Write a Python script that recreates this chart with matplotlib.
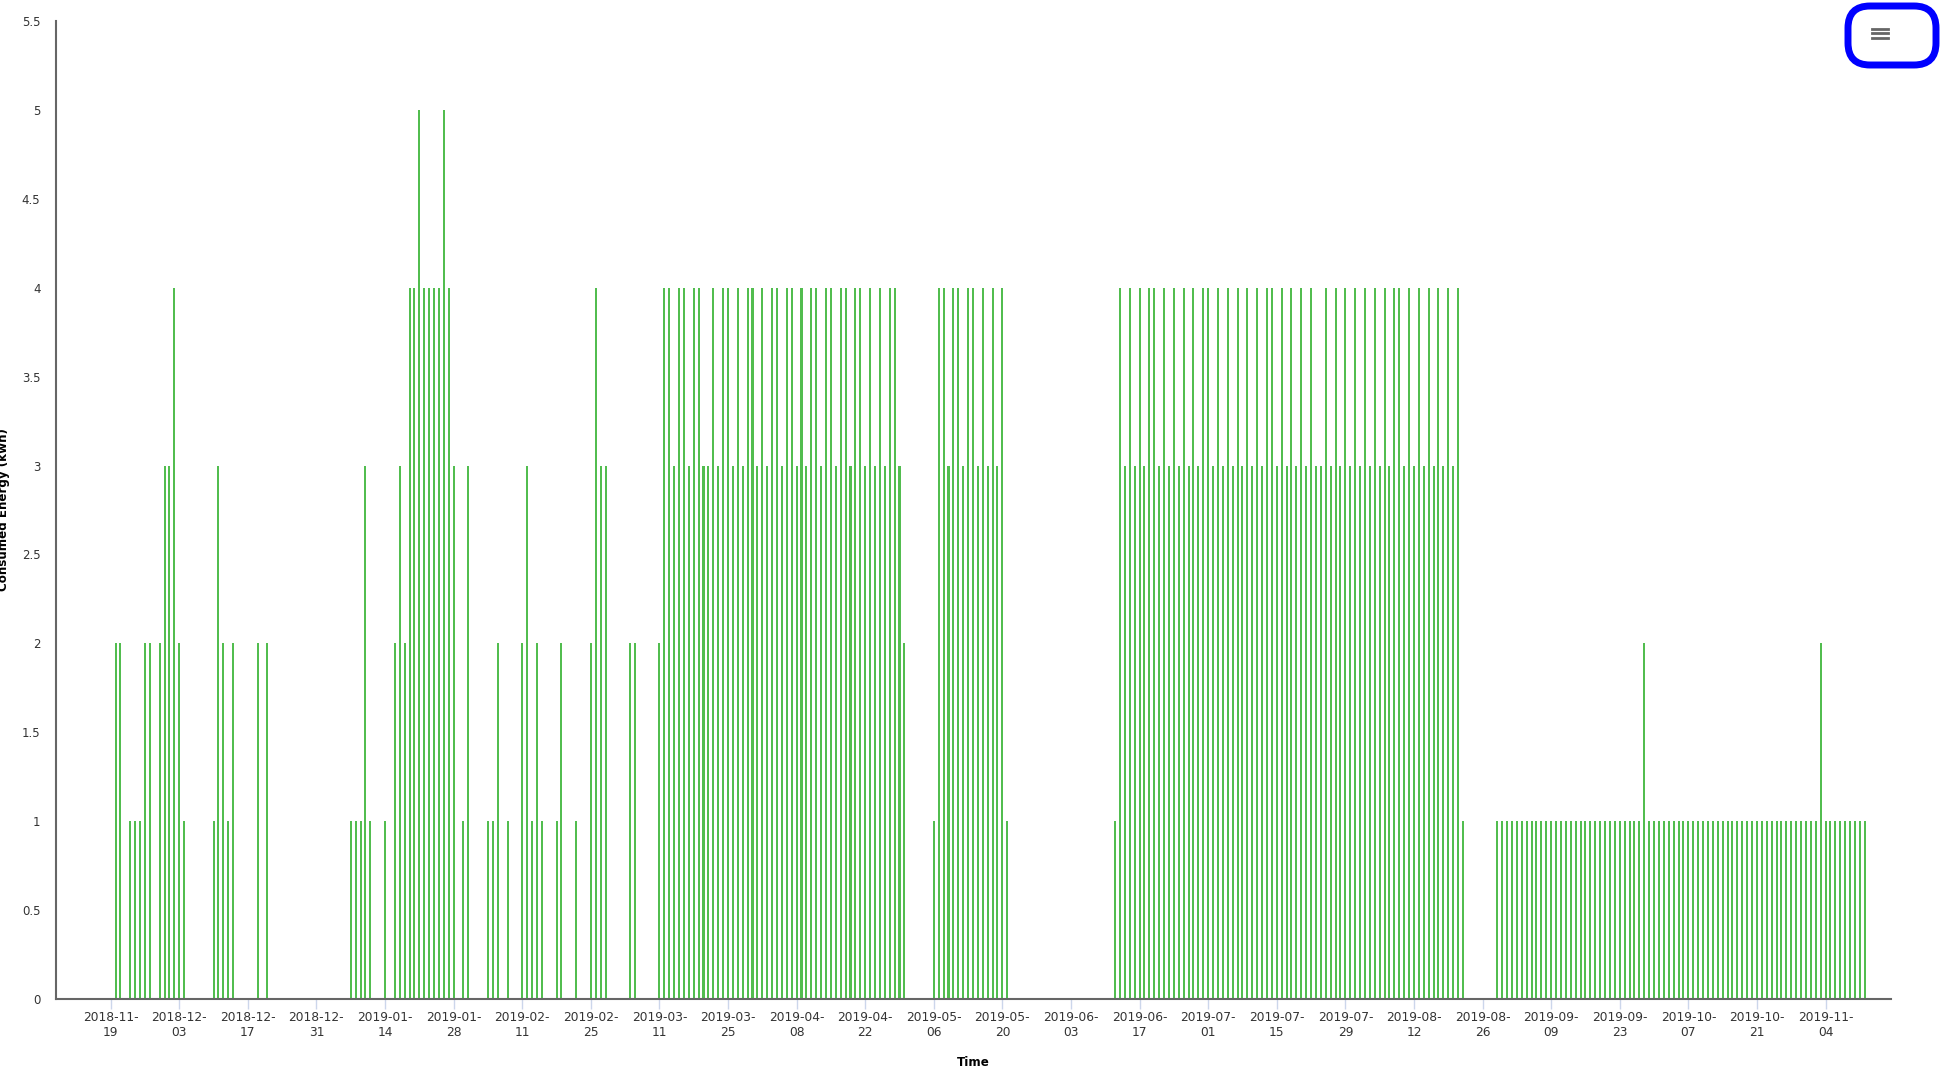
import matplotlib
matplotlib.use("Agg")
import numpy as np
import pandas as pd
import matplotlib.pyplot as plt
import matplotlib.dates as mdates
from matplotlib.ticker import FuncFormatter
from matplotlib.patches import FancyBboxPatch
from matplotlib.lines import Line2D
from matplotlib.transforms import IdentityTransform

# daily consumed energy (kwh), one row per week, starting Monday 2018-11-19
start_day = "2018-11-19"
energy = [
    0, 2, 2, 0, 1, 1, 1,
    2, 2, 0, 2, 3, 3, 4,
    2, 1, 0, 0, 0, 0, 0,
    1, 3, 2, 1, 2, 0, 0,
    0, 0, 2, 0, 2, 0, 0,
    0, 0, 0, 0, 0, 0, 0,
    0, 0, 0, 0, 0, 0, 0,
    1, 1, 1, 3, 1, 0, 0,
    1, 0, 2, 3, 2, 4, 4,
    5, 4, 4, 4, 4, 5, 4,
    3, 0, 1, 3, 0, 0, 0,
    1, 1, 2, 0, 1, 0, 0,
    2, 3, 1, 2, 1, 0, 0,
    1, 2, 0, 0, 1, 0, 0,
    2, 4, 3, 3, 0, 0, 0,
    0, 2, 2, 0, 0, 0, 0,
    2, 4, 4, 3, 4, 4, 3,
    4, 4, 3, 3, 4, 3, 4,
    4, 3, 4, 3, 4, 4, 3,
    4, 3, 4, 4, 3, 4, 4,
    3, 4, 3, 4, 4, 3, 4,
    4, 3, 4, 4, 3, 4, 4,
    3, 4, 3, 4, 3, 4, 4,
    3, 2, 0, 0, 0, 0, 0,
    1, 4, 4, 3, 4, 4, 3,
    4, 4, 3, 4, 3, 4, 3,
    4, 1, 0, 0, 0, 0, 0,
    0, 0, 0, 0, 0, 0, 0,
    0, 0, 0, 0, 0, 0, 0,
    0, 0, 1, 4, 3, 4, 3,
    4, 3, 4, 4, 3, 4, 3,
    4, 3, 4, 3, 4, 3, 4,
    4, 3, 4, 3, 4, 3, 4,
    3, 4, 3, 4, 3, 4, 4,
    3, 4, 3, 4, 3, 4, 3,
    4, 3, 3, 4, 3, 4, 3,
    4, 3, 4, 3, 4, 3, 4,
    3, 4, 3, 4, 4, 3, 4,
    3, 4, 3, 4, 3, 4, 3,
    4, 3, 4, 1, 0, 0, 0,
    0, 0, 0, 1, 1, 1, 1,
    1, 1, 1, 1, 1, 1, 1,
    1, 1, 1, 1, 1, 1, 1,
    1, 1, 1, 1, 1, 1, 1,
    1, 1, 1, 1, 1, 2, 1,
    1, 1, 1, 1, 1, 1, 1,
    1, 1, 1, 1, 1, 1, 1,
    1, 1, 1, 1, 1, 1, 1,
    1, 1, 1, 1, 1, 1, 1,
    1, 1, 1, 1, 1, 1, 2,
    1, 1, 1, 1, 1, 1, 1,
    1, 1,
]
days = pd.date_range(start_day, periods=len(energy), freq="D")

tick_days = pd.date_range("2018-11-19", "2019-11-04", freq="14D")
x_range = (pd.Timestamp("2018-11-07 19:00"), pd.Timestamp("2019-11-17 07:00"))
y_ticks = np.arange(0, 5.51, 0.5)

W, H = 1941, 1069
fig = plt.figure(figsize=(W / 100, H / 100), dpi=100)
ax = fig.add_axes([55.7 / W, 69.7 / H, 1835 / W, 978.6 / H])

ax.bar(days, energy, width=0.41, color="#52bd4f", linewidth=0, antialiased=False)

ax.set_xlim(*x_range)
ax.set_ylim(0, 5.5)
ax.set_xticks(tick_days)
ax.xaxis.set_major_formatter(mdates.DateFormatter("%Y-%m-\n%d"))
ax.set_yticks(y_ticks)
ax.yaxis.set_major_formatter(FuncFormatter(lambda v, p: "{:g}".format(v)))

ax.tick_params(axis="x", length=7.2, width=1, color="#ccd6eb", pad=1.5,
               labelsize=8.8, labelcolor="#333333")
ax.tick_params(axis="y", length=0, pad=11, labelsize=8.5, labelcolor="#333333")

for side in ["top", "right"]:
    ax.spines[side].set_visible(False)
for side in ["left", "bottom"]:
    ax.spines[side].set_color("#666666")
    ax.spines[side].set_linewidth(1.5)

fig.text(4 / W, 1 - 510 / H, "Consumed Energy (kwh)", rotation=90,
         ha="center", va="center", fontsize=8.6, fontweight="bold", color="#000000")
fig.text(973 / W, (H - 1056) / H, "Time", ha="center", va="top",
         fontsize=8.6, fontweight="bold", color="#000000")

# export menu icon with hand drawn highlight
for yy in [H - 28.5, H - 33, H - 37.5]:
    fig.add_artist(Line2D([1872, 1888], [yy, yy], color="#666666", linewidth=2,
                          transform=IdentityTransform()))
fig.add_artist(FancyBboxPatch((1848, H - 65), 88, 59,
                              boxstyle="round,pad=0,rounding_size=22",
                              facecolor="none", edgecolor="#0000ff", linewidth=5,
                              transform=IdentityTransform()))

fig.savefig("out.png", dpi=100)
